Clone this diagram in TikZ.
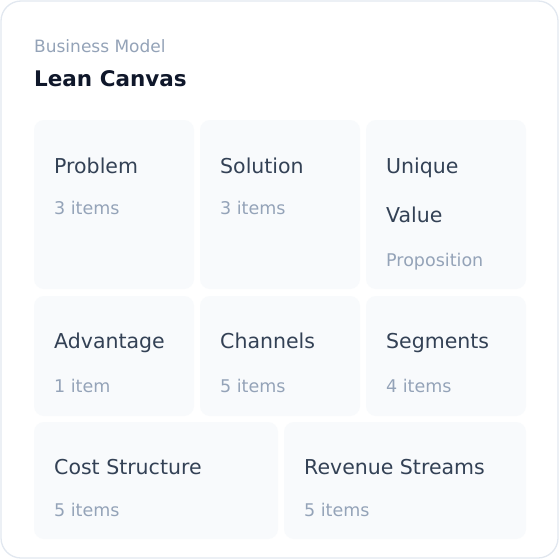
\documentclass[tikz,border=0pt]{standalone}
\usepackage{fontspec}
\setmainfont{DejaVu Sans}
\usetikzlibrary{calc,positioning}

\definecolor{ink}{HTML}{0F172A}
\definecolor{label}{HTML}{334155}
\definecolor{muted}{HTML}{94A3B8}
\definecolor{tile}{HTML}{F8FAFC}
\definecolor{rim}{HTML}{E2E8F0}

\begin{document}
\begin{tikzpicture}[x=1pt,y=-1pt,
		cell/.style={fill=tile,rounded corners=10pt,inner sep=0pt,outer sep=0pt,anchor=north west},
		ttl/.style={anchor=base west,inner sep=0pt,text=label,font=\fontsize{20.5}{24}\selectfont},
		cnt/.style={anchor=base west,inner sep=0pt,text=muted,font=\fontsize{17.5}{21}\selectfont}]
			\useasboundingbox (0,0) rectangle (560,560);
			\draw[rim,fill=white,line width=1.3pt,rounded corners=20pt] (1,1) rectangle (558,558);
			% header
			\node[anchor=base west,inner sep=0pt,text=muted,font=\fontsize{17}{20}\selectfont] (kicker) at (34,52.7) {Business Model};
			\node[anchor=base west,inner sep=0pt,text=ink,font=\fontsize{21.5}{26}\selectfont\bfseries] (heading) at (34,86.5) {Lean Canvas};
			% tiles
			\node[cell,minimum width=160pt,minimum height=169pt] (prob) at (34,120) {};
			\node[cell,minimum width=160pt,minimum height=169pt] (sol) at (200,120) {};
			\node[cell,minimum width=160pt,minimum height=169pt] (uvp) at (366,120) {};
			\node[cell,minimum width=160pt,minimum height=120pt] (adv) at (34,296) {};
			\node[cell,minimum width=160pt,minimum height=120pt] (chan) at (200,296) {};
			\node[cell,minimum width=160pt,minimum height=120pt] (seg) at (366,296) {};
			\node[cell,minimum width=244pt,minimum height=117pt] (cost) at (34,422) {};
			\node[cell,minimum width=242pt,minimum height=117pt] (rev) at (284,422) {};
			% labels
			\node[ttl] (prob_t) at ($(prob.north west)+(20,53)$) {Problem};
			\node[cnt] (prob_n) at ($(prob.north west)+(20,94)$) {3 items};
			\node[ttl] (sol_t) at ($(sol.north west)+(20,53)$) {Solution};
			\node[cnt] (sol_n) at ($(sol.north west)+(20,94)$) {3 items};
			\node[ttl] (uvp_t) at ($(uvp.north west)+(20,53)$) {Unique};
			\node[ttl] (uvp_t2) at ($(uvp.north west)+(20,102.5)$) {Value};
			\node[cnt] (uvp_n) at ($(uvp.north west)+(20,146.5)$) {Proposition};
			\node[ttl] (adv_t) at ($(adv.north west)+(20,52.3)$) {Advantage};
			\node[cnt] (adv_n) at ($(adv.north west)+(20,96.7)$) {1 item};
			\node[ttl] (chan_t) at ($(chan.north west)+(20,52.3)$) {Channels};
			\node[cnt] (chan_n) at ($(chan.north west)+(20,96.7)$) {5 items};
			\node[ttl] (seg_t) at ($(seg.north west)+(20,52.3)$) {Segments};
			\node[cnt] (seg_n) at ($(seg.north west)+(20,96.7)$) {4 items};
			\node[ttl] (cost_t) at ($(cost.north west)+(20,52)$) {Cost Structure};
			\node[cnt] (cost_n) at ($(cost.north west)+(20,94)$) {5 items};
			\node[ttl] (rev_t) at ($(rev.north west)+(20,52)$) {Revenue Streams};
			\node[cnt] (rev_n) at ($(rev.north west)+(20,94)$) {5 items};
		\end{tikzpicture}
\end{document}
